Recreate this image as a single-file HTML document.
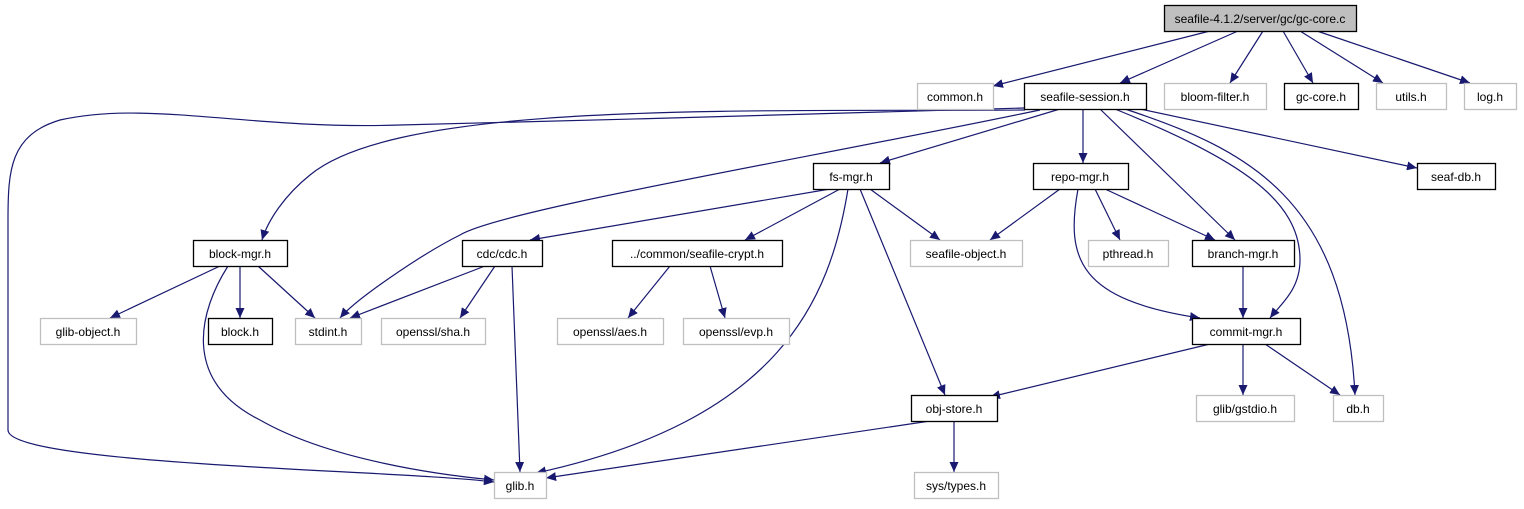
<!DOCTYPE html>
<html><head><meta charset="utf-8"><style>
body{margin:0;background:#fff;width:1524px;height:504px;overflow:hidden}
text{font-family:"Liberation Sans",sans-serif;font-size:12px;text-anchor:middle}
</style></head><body>
<svg width="1524" height="504" viewBox="0 0 1524 504" xmlns="http://www.w3.org/2000/svg">
<defs><marker id="a" markerUnits="userSpaceOnUse" markerWidth="11" markerHeight="9" refX="10" refY="4.5" orient="auto"><path d="M0,0 L10,4.5 L0,9 z" fill="#191970"/></marker></defs>
<g fill="none" stroke="#191970" stroke-width="1.2" marker-end="url(#a)">
<path d="M1210,31 L993,86"/>
<path d="M1238,31 L1120,83"/>
<path d="M1263,31 L1230,83"/>
<path d="M1283,31 L1313,83"/>
<path d="M1300,31 L1383,83"/>
<path d="M1317,31 L1470,83"/>
<path d="M1025,110 C750,112 400,100 310,175 C285,195 268,220 262,240"/>
<path d="M1024,108 C900,112 600,120 400,125 C250,130 150,100 60,120 C10,135 8,170 8,220 L8,430 C8,465 400,470 494,482"/>
<path d="M1040,110 C800,160 500,210 460,235 C420,255 355,300 340,318"/>
<path d="M1060,109 L880,163"/>
<path d="M1083,109 L1083,163"/>
<path d="M1100,109 L1235,240"/>
<path d="M1115,109 C1240,160 1300,200 1300,260 C1300,290 1280,305 1270,318"/>
<path d="M1125,109 C1250,150 1345,200 1355,395"/>
<path d="M1140,109 L1417,168"/>
<path d="M830,189 L530,240"/>
<path d="M840,189 L745,240"/>
<path d="M870,189 L940,240"/>
<path d="M860,189 L945,395"/>
<path d="M848,189 C830,300 780,420 536,473"/>
<path d="M1060,189 L990,240"/>
<path d="M1095,189 L1120,240"/>
<path d="M1105,189 L1215,240"/>
<path d="M1078,189 C1065,260 1080,300 1200,318"/>
<path d="M220,266 L110,318"/>
<path d="M240,266 L240,318"/>
<path d="M258,266 L315,318"/>
<path d="M228,266 C200,310 180,380 260,420 C330,460 440,475 494,480"/>
<path d="M485,266 L350,318"/>
<path d="M495,266 L460,318"/>
<path d="M512,266 L520,472"/>
<path d="M670,266 L628,318"/>
<path d="M710,266 L725,318"/>
<path d="M1243,266 L1243,318"/>
<path d="M1210,344 L990,397"/>
<path d="M1243,344 L1243,395"/>
<path d="M1265,344 L1340,395"/>
<path d="M930,421 L546,478"/>
<path d="M954,421 L954,472"/>
</g>
<g stroke-width="1.3">
<rect x="1164.5" y="5.5" width="192" height="26" fill="#bfbfbf" stroke="#000"/>
<g fill="#fff" stroke="#bfbfbf">
<rect x="917.5" y="83.5" width="76" height="26"/>
<rect x="1164.5" y="83.5" width="102" height="26"/>
<rect x="1376.5" y="83.5" width="70" height="26"/>
<rect x="1464.5" y="83.5" width="52" height="26"/>
<rect x="910.5" y="240.5" width="112" height="26"/>
<rect x="1088.5" y="240.5" width="80" height="26"/>
<rect x="40.5" y="318.5" width="96" height="26"/>
<rect x="295.5" y="318.5" width="66" height="26"/>
<rect x="381.5" y="318.5" width="104" height="26"/>
<rect x="557.5" y="318.5" width="106" height="26"/>
<rect x="683.5" y="318.5" width="106" height="26"/>
<rect x="1196.5" y="395.5" width="98" height="26"/>
<rect x="1333.5" y="395.5" width="50" height="26"/>
<rect x="494.5" y="472.5" width="52" height="26"/>
<rect x="914.5" y="472.5" width="84" height="26"/>
</g>
<g fill="#fff" stroke="#000">
<rect x="1024.5" y="83.5" width="122" height="26"/>
<rect x="1284.5" y="83.5" width="74" height="26"/>
<rect x="813.5" y="163.5" width="76" height="26"/>
<rect x="1033.5" y="163.5" width="95" height="26"/>
<rect x="1417.5" y="163.5" width="78" height="26"/>
<rect x="193.5" y="240.5" width="94" height="26"/>
<rect x="462.5" y="240.5" width="80" height="26"/>
<rect x="612.5" y="240.5" width="170" height="26"/>
<rect x="1192.5" y="240.5" width="102" height="26"/>
<rect x="208.5" y="318.5" width="64" height="26"/>
<rect x="1192.5" y="318.5" width="108" height="26"/>
<rect x="911.5" y="395.5" width="86" height="26"/>
</g>
</g>
<g fill="#000">
<text x="1260" y="23">seafile-4.1.2/server/gc/gc-core.c</text>
<text x="955" y="101">common.h</text>
<text x="1085" y="101">seafile-session.h</text>
<text x="1215" y="101">bloom-filter.h</text>
<text x="1321" y="101">gc-core.h</text>
<text x="1411" y="101">utils.h</text>
<text x="1490" y="101">log.h</text>
<text x="851" y="181">fs-mgr.h</text>
<text x="1080" y="181">repo-mgr.h</text>
<text x="1456" y="181">seaf-db.h</text>
<text x="240" y="258">block-mgr.h</text>
<text x="502" y="258">cdc/cdc.h</text>
<text x="697" y="258">../common/seafile-crypt.h</text>
<text x="966" y="258">seafile-object.h</text>
<text x="1128" y="258">pthread.h</text>
<text x="1243" y="258">branch-mgr.h</text>
<text x="88" y="336">glib-object.h</text>
<text x="240" y="336">block.h</text>
<text x="328" y="336">stdint.h</text>
<text x="433" y="336">openssl/sha.h</text>
<text x="610" y="336">openssl/aes.h</text>
<text x="736" y="336">openssl/evp.h</text>
<text x="1246" y="336">commit-mgr.h</text>
<text x="954" y="413">obj-store.h</text>
<text x="1245" y="413">glib/gstdio.h</text>
<text x="1358" y="413">db.h</text>
<text x="520" y="490">glib.h</text>
<text x="956" y="490">sys/types.h</text>
</g>
</svg>
</body></html>
